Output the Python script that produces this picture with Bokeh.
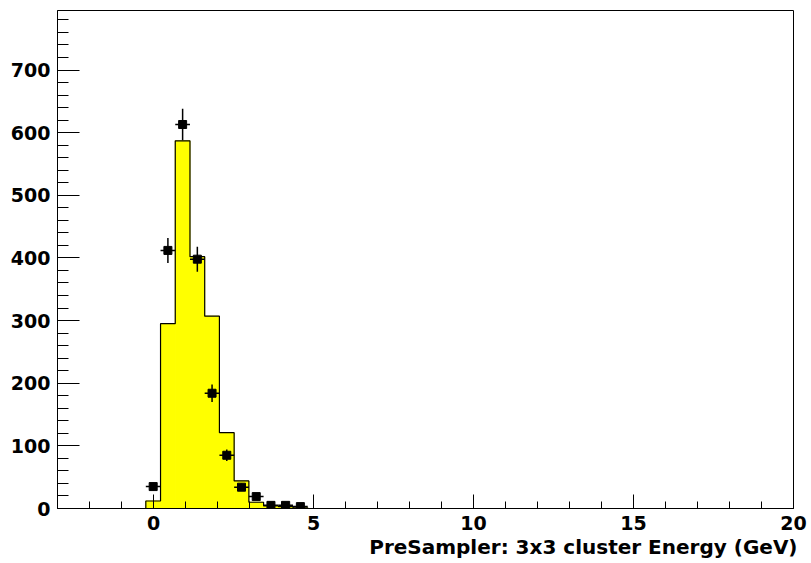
from bokeh.plotting import figure
from bokeh.models import SingleIntervalTicker, Title, Range1d
from bokeh.embed import file_html
from bokeh.resources import INLINE

# Histogram (filled yellow)
bin_edges = [-0.24, 0.22, 0.68, 1.14, 1.60, 2.06, 2.52, 2.98, 3.44, 3.90, 4.36, 4.82]
hist_counts = [12, 295, 587, 402, 307, 121, 44, 10, 4, 3, 1]

# Data points with error bars
pt_x = [-0.01, 0.45, 0.91, 1.37, 1.83, 2.29, 2.75, 3.21, 3.67, 4.13, 4.59]
pt_y = [35, 412, 613, 398, 184, 85, 34, 19, 5, 5, 3]
pt_err = [6, 20, 25, 20, 14, 9, 6, 4.4, 2.2, 2.2, 1.7]
pt_halfwidth = 0.23

x_label = "PreSampler: 3x3 cluster Energy (GeV)"
FONT = "DejaVu Sans"

p = figure(width=811, height=563, x_range=Range1d(-3, 20), y_range=Range1d(0, 795),
           output_backend="svg", toolbar_location=None,
           min_border_left=57, min_border_right=18, min_border_top=10, min_border_bottom=55)
p.background_fill_color = "white"
p.border_fill_color = "white"
p.outline_line_color = "black"
p.outline_line_width = 1
p.xgrid.visible = False
p.ygrid.visible = False

p.quad(left=bin_edges[:-1], right=bin_edges[1:], bottom=0, top=hist_counts,
       fill_color="#ffff00", line_color="#ffff00", line_width=1)
step_x = [bin_edges[0]] + bin_edges
step_y = [0] + hist_counts + [0]
p.step(step_x, step_y, mode="after", line_color="black", line_width=1.2)

p.segment(x0=pt_x, y0=[y - e for y, e in zip(pt_y, pt_err)],
          x1=pt_x, y1=[y + e for y, e in zip(pt_y, pt_err)], line_color="black", line_width=1.5)
p.segment(x0=[x - pt_halfwidth for x in pt_x], y0=pt_y,
          x1=[x + pt_halfwidth for x in pt_x], y1=pt_y, line_color="black", line_width=1.5)
p.scatter(pt_x, pt_y, marker="square", size=8, fill_color="black", line_color="black")

# axes
xa = p.xaxis[0]
xa.ticker = SingleIntervalTicker(interval=5, num_minor_ticks=5)
xa.major_tick_in = 14
xa.major_tick_out = 0
xa.minor_tick_in = 7
xa.minor_tick_out = 0
xa.major_label_standoff = 7
xa.axis_line_color = "black"
xa.major_tick_line_color = "black"
xa.minor_tick_line_color = "black"
xa.major_label_text_font = FONT
xa.major_label_text_font_style = "bold"
xa.major_label_text_font_size = "19px"
xa.major_label_text_color = "black"

ya = p.yaxis[0]
ya.ticker = SingleIntervalTicker(interval=100, num_minor_ticks=5)
ya.major_tick_in = 22
ya.major_tick_out = 0
ya.minor_tick_in = 11
ya.minor_tick_out = 0
ya.major_label_standoff = 7
ya.axis_line_color = "black"
ya.major_tick_line_color = "black"
ya.minor_tick_line_color = "black"
ya.major_label_text_font = FONT
ya.major_label_text_font_style = "bold"
ya.major_label_text_font_size = "19px"
ya.major_label_text_color = "black"

ttl = Title(text=x_label, align="right", offset=-4, standoff=0,
            text_font=FONT, text_font_style="bold", text_font_size="20px",
            text_color="black")
p.add_layout(ttl, "below")

open("out.html", "w").write(file_html(p, INLINE))
